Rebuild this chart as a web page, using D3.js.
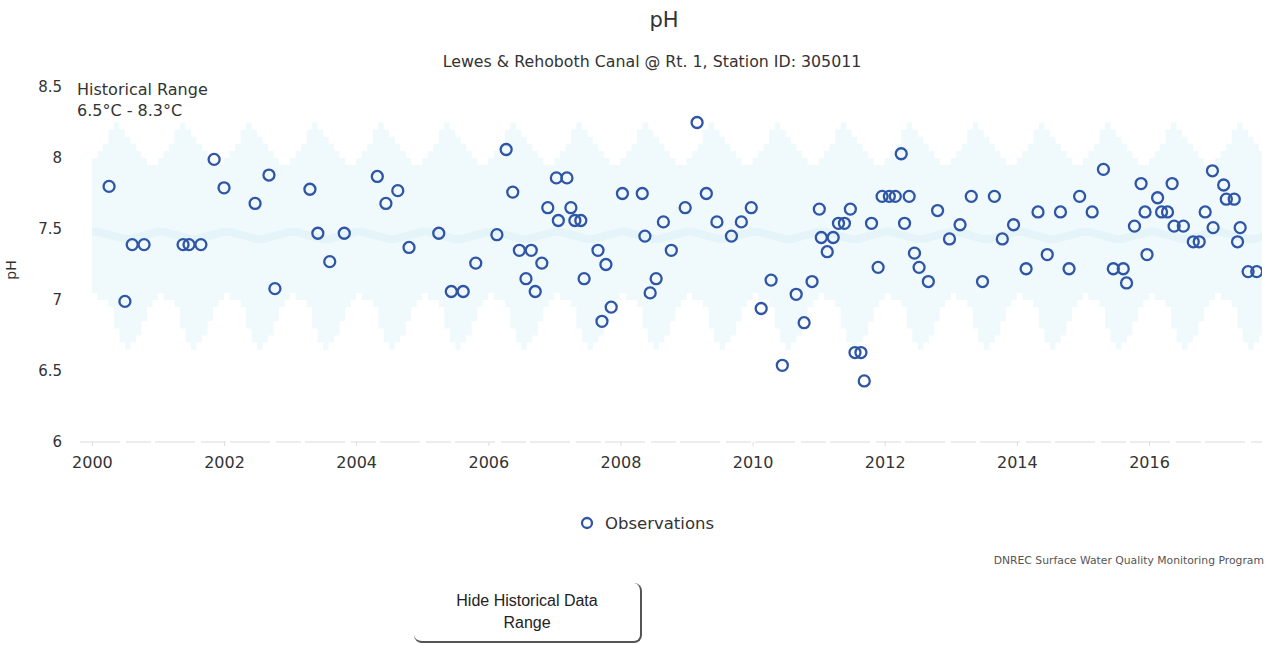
<!DOCTYPE html>
<html>
<head>
<meta charset="utf-8">
<script src="https://cdn.jsdelivr.net/npm/d3@7"></script>
<style>
  body { margin: 0; background: #fff; overflow: hidden; font-family: "DejaVu Sans", sans-serif; }
  #chartContainer { position: relative; width: 1269px; height: 645px; overflow: hidden; }
  #toggle {
    position: absolute; left: 414px; top: 583px; width: 228px; height: 60px;
    background: #fff; border: none; border-right: 2px solid #555; border-bottom: 2px solid #555;
    border-radius: 0 8px 8px 8px; font-family: "Liberation Sans", Arial, sans-serif;
    font-size: 16px; color: #222; line-height: 22px; padding: 0;
  }
</style>
</head>
<body>
<div id="chartContainer"><button id="toggle">Hide Historical Data<br>Range</button></div>
<script>
// observations: decimal year, pH
var obsDate = [2000.26, 2000.50, 2000.61, 2000.79, 2001.38, 2001.47, 2001.65, 2001.85, 2002.00, 2002.47,
  2002.68, 2002.77, 2003.30, 2003.42, 2003.60, 2003.82, 2004.32, 2004.45, 2004.63, 2004.80,
  2005.25, 2005.44, 2005.62, 2005.81, 2006.13, 2006.27, 2006.37, 2006.47, 2006.57, 2006.65,
  2006.71, 2006.81, 2006.90, 2007.03, 2007.06, 2007.19, 2007.25, 2007.31, 2007.40, 2007.45,
  2007.66, 2007.72, 2007.78, 2007.86, 2008.03, 2008.33, 2008.37, 2008.45, 2008.54, 2008.65,
  2008.77, 2008.98, 2009.16, 2009.30, 2009.46, 2009.68, 2009.83, 2009.98, 2010.13, 2010.28,
  2010.45, 2010.66, 2010.78, 2010.90, 2011.01, 2011.04, 2011.13, 2011.22, 2011.30, 2011.39,
  2011.48, 2011.55, 2011.64, 2011.69, 2011.80, 2011.90, 2011.96, 2012.07, 2012.16, 2012.25,
  2012.30, 2012.37, 2012.45, 2012.52, 2012.66, 2012.80, 2012.98, 2013.14, 2013.31, 2013.48,
  2013.66, 2013.78, 2013.95, 2014.14, 2014.32, 2014.46, 2014.66, 2014.79, 2014.95, 2015.14,
  2015.31, 2015.46, 2015.61, 2015.66, 2015.78, 2015.88, 2015.94, 2015.97, 2016.13, 2016.19,
  2016.28, 2016.35, 2016.38, 2016.52, 2016.67, 2016.76, 2016.85, 2016.96, 2016.97, 2017.13,
  2017.17, 2017.29, 2017.34, 2017.38, 2017.50, 2017.63];
var obsPH = [7.80, 6.99, 7.39, 7.39, 7.39, 7.39, 7.39, 7.99, 7.79, 7.68,
  7.88, 7.08, 7.78, 7.47, 7.27, 7.47, 7.87, 7.68, 7.77, 7.37,
  7.47, 7.06, 7.06, 7.26, 7.46, 8.06, 7.76, 7.35, 7.15, 7.35,
  7.06, 7.26, 7.65, 7.86, 7.56, 7.86, 7.65, 7.56, 7.56, 7.15,
  7.35, 6.85, 7.25, 6.95, 7.75, 7.75, 7.45, 7.05, 7.15, 7.55,
  7.35, 7.65, 8.25, 7.75, 7.55, 7.45, 7.55, 7.65, 6.94, 7.14,
  6.54, 7.04, 6.84, 7.13, 7.64, 7.44, 7.34, 7.44, 7.54, 7.54,
  7.64, 6.63, 6.63, 6.43, 7.54, 7.23, 7.73, 7.73, 7.73, 8.03,
  7.54, 7.73, 7.33, 7.23, 7.13, 7.63, 7.43, 7.53, 7.73, 7.13,
  7.73, 7.43, 7.53, 7.22, 7.62, 7.32, 7.62, 7.22, 7.73, 7.62,
  7.92, 7.22, 7.22, 7.12, 7.52, 7.82, 7.62, 7.32, 7.72, 7.62,
  7.62, 7.82, 7.52, 7.52, 7.41, 7.41, 7.62, 7.91, 7.51, 7.81,
  7.71, 7.71, 7.41, 7.51, 7.20, 7.20];

// historical range by month of year (repeated every year)
var histMonth = [1, 2, 3, 4, 5, 6, 7, 8, 9, 10, 11, 12];
var histMin = [7.05, 7.0, 7.0, 6.95, 6.8, 6.7, 6.65, 6.7, 6.75, 6.85, 6.95, 7.0];
var histMax = [8.0, 8.05, 8.1, 8.2, 8.25, 8.2, 8.15, 8.1, 8.05, 8.0, 7.95, 7.95];
var histAvg = [7.48, 7.48, 7.47, 7.46, 7.45, 7.44, 7.43, 7.43, 7.44, 7.45, 7.46, 7.47];
var histYears = d3.range(2000, 2018);

var yearTicks = [2000, 2002, 2004, 2006, 2008, 2010, 2012, 2014, 2016];
var phTicks = [6, 6.5, 7, 7.5, 8, 8.5];

function init() {
    var w = 1269;
    var h = 645;

    var xScale = d3.scaleLinear()
        .domain([1999.82, 2017.68])
        .range([80, 1260]);

    var yScale = d3.scaleLinear()
        .domain([6, 8.5])
        .range([442, 87]);

    var svg = d3.select("#chartContainer")
        .insert("svg", "#toggle")
        .attr("width", w)
        .attr("height", h)
        .style("position", "absolute")
        .style("left", 0)
        .style("top", 0);

    svg.append("clipPath").attr("id", "plotClip")
        .append("rect")
        .attr("x", 80).attr("y", 80)
        .attr("width", 1182).attr("height", 365);

    // historical range band
    var hist = [];
    histYears.forEach(function (yr) {
        histMonth.forEach(function (m, i) {
            hist.push({ t: yr + (m - 1) / 12, lo: histMin[i], hi: histMax[i], avg: histAvg[i] });
        });
    });

    var plot = svg.append("g").attr("clip-path", "url(#plotClip)");

    var area = d3.area()
        .curve(d3.curveStepAfter)
        .x(function (d) { return xScale(d.t); })
        .y0(function (d) { return yScale(d.lo); })
        .y1(function (d) { return yScale(d.hi); });

    plot.append("path")
        .datum(hist)
        .attr("class", "histRange")
        .attr("fill", "#f0fafd")
        .attr("d", area);

    var avgLine = d3.line()
        .curve(d3.curveMonotoneX)
        .x(function (d) { return xScale(d.t); })
        .y(function (d) { return yScale(d.avg); });

    plot.append("path")
        .datum(hist)
        .attr("fill", "none")
        .attr("stroke", "#e4f4f9")
        .attr("stroke-width", 8)
        .attr("d", avgLine);

    // baseline
    svg.append("line")
        .attr("x1", 80).attr("x2", 1262)
        .attr("y1", yScale(6)).attr("y2", yScale(6))
        .attr("stroke", "#dcdcdc")
        .attr("stroke-width", 1.2)
        .attr("stroke-dasharray", "40,6,25,4");

    // axes
    var xAxis = d3.axisBottom(xScale)
        .tickValues(yearTicks)
        .tickFormat(d3.format("d"))
        .tickSize(4)
        .tickPadding(11);

    var gx = svg.append("g")
        .attr("class", "x axis")
        .attr("transform", "translate(0," + yScale(6) + ")")
        .call(xAxis);
    gx.select(".domain").remove();
    gx.selectAll("line").attr("stroke", "#ddd");
    gx.selectAll("text").attr("fill", "#333").attr("font-size", "16px")
        .attr("font-family", "DejaVu Sans, sans-serif");

    var yAxis = d3.axisLeft(yScale)
        .tickValues(phTicks)
        .tickFormat(d3.format("~g"))
        .tickSize(0)
        .tickPadding(18);

    var gy = svg.append("g")
        .attr("class", "y axis")
        .attr("transform", "translate(80,0)")
        .call(yAxis);
    gy.select(".domain").remove();
    gy.selectAll("text").attr("fill", "#333").attr("font-size", "15px")
        .attr("font-family", "DejaVu Sans, sans-serif");

    svg.append("text")
        .attr("transform", "translate(16,270) rotate(-90)")
        .attr("text-anchor", "middle")
        .attr("font-size", "14px")
        .attr("fill", "#333")
        .text("pH");

    // observations
    var obs = obsDate.map(function (d, i) { return { t: d, v: obsPH[i] }; });
    plot.selectAll("circle.obs")
        .data(obs)
        .enter().append("circle")
        .attr("class", "obs")
        .attr("cx", function (d) { return xScale(d.t); })
        .attr("cy", function (d) { return yScale(d.v); })
        .attr("r", 5.5)
        .attr("fill", "none")
        .attr("stroke", "#2f56a6")
        .attr("stroke-width", 2.3);

    // titles
    svg.append("text")
        .attr("x", 664).attr("y", 27)
        .attr("text-anchor", "middle")
        .attr("font-size", "21px")
        .attr("fill", "#333")
        .text("pH");

    svg.append("text")
        .attr("x", 652).attr("y", 67)
        .attr("text-anchor", "middle")
        .attr("font-size", "15.8px")
        .attr("fill", "#333")
        .text("Lewes & Rehoboth Canal @ Rt. 1, Station ID: 305011");

    svg.append("text")
        .attr("x", 77).attr("y", 95)
        .attr("font-size", "16px")
        .attr("fill", "#333")
        .text("Historical Range");
    svg.append("text")
        .attr("x", 77).attr("y", 116)
        .attr("font-size", "16px")
        .attr("fill", "#333")
        .text("6.5°C - 8.3°C");

    // legend
    svg.append("circle")
        .attr("cx", 587).attr("cy", 523).attr("r", 5)
        .attr("fill", "none")
        .attr("stroke", "#2f56a6")
        .attr("stroke-width", 2.3);
    svg.append("text")
        .attr("x", 605).attr("y", 529)
        .attr("font-size", "16.5px")
        .attr("fill", "#333")
        .text("Observations");

    svg.append("text")
        .attr("x", 1264).attr("y", 564)
        .attr("text-anchor", "end")
        .attr("font-size", "10.8px")
        .attr("fill", "#555")
        .text("DNREC Surface Water Quality Monitoring Program");
}

window.onload = init;
</script>
</body>
</html>
